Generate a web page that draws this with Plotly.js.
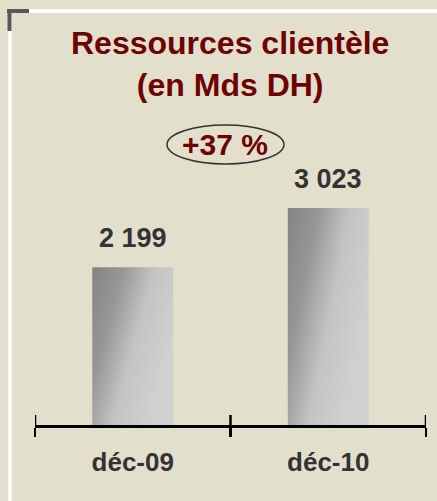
<!DOCTYPE html>
<html>
<head>
<meta charset="utf-8">
<script src="https://cdn.plot.ly/plotly-3.0.1.min.js"></script>
<style>
  html, body { margin: 0; padding: 0; background: #E3E0CB; }
  #chart { width: 437px; height: 501px; }
</style>
</head>
<body>
<div id="chart"></div>
<script>
// ---- data ----
const categories = ['déc-09', 'déc-10'];
const values = [2199, 3023];
const growthLabel = '+37 %';
const titleText = 'Ressources clientèle<br>(en Mds DH)';

// ---- layout geometry (pixels) ----
const W = 437, H = 501;
const M = { l: 35, r: 11, t: 138, b: 76 };
const PW = W - M.l - M.r, PH = H - M.t - M.b;
const px = x => (x - M.l) / PW;          // page px -> paper x
const py = y => (H - M.b - y) / PH;      // page px -> paper y

function fmt(v) { return String(v).replace(/\B(?=(\d{3})+(?!\d))/g, ' '); }

const FONT = 'Liberation Sans, Arial, sans-serif';
const MAROON = '#6E0303';
const DARK = '#333333';

const trace = {
  type: 'bar',
  x: categories,
  y: values,
  width: 0.414,
  marker: { color: '#B0B0B0', line: { width: 0 } },
  hoverinfo: 'skip'
};

const annotations = categories.map((c, i) => ({
  x: c, y: values[i], xref: 'x', yref: 'y',
  text: '<b>' + fmt(values[i]) + '</b>',
  showarrow: false, yanchor: 'bottom', yshift: 12,
  font: { family: FONT, size: 27, color: DARK }
}));
annotations.push({
  x: px(225), y: py(144), xref: 'paper', yref: 'paper',
  text: '<b>' + growthLabel + '</b>', showarrow: false,
  xanchor: 'center', yanchor: 'middle',
  font: { family: FONT, size: 30, color: MAROON }
});
// chart title (two lines)
annotations.push({
  x: px(230), y: py(23), xref: 'paper', yref: 'paper',
  text: '<b>' + titleText + '</b>', showarrow: false,
  xanchor: 'center', yanchor: 'top', align: 'center',
  font: { family: FONT, size: 32, color: MAROON }
});

const tickPos = [-0.5, 0.5, 1.5];
const shapes = [
  // inner panel
  { type: 'rect', xref: 'paper', yref: 'paper', layer: 'below',
    x0: px(12), x1: px(437), y0: py(496), y1: py(13),
    fillcolor: '#E2E0CD', line: { width: 0 } },
  // white frame lines
  { type: 'line', xref: 'paper', yref: 'paper', layer: 'below',
    x0: px(10), x1: px(10), y0: py(11), y1: py(501),
    line: { color: '#FFFFFF', width: 3.5 } },
  { type: 'line', xref: 'paper', yref: 'paper', layer: 'below',
    x0: px(10), x1: px(437), y0: py(11), y1: py(11),
    line: { color: '#FFFFFF', width: 3.5 } },
  // dark corner
  { type: 'line', xref: 'paper', yref: 'paper',
    x0: px(7), x1: px(29), y0: py(11), y1: py(11),
    line: { color: '#5A5757', width: 4 } },
  { type: 'line', xref: 'paper', yref: 'paper',
    x0: px(9.5), x1: px(9.5), y0: py(9), y1: py(31),
    line: { color: '#5A5757', width: 4 } },
  // ellipse around growth label
  { type: 'circle', xref: 'paper', yref: 'paper',
    x0: px(167), x1: px(284), y0: py(164), y1: py(125),
    line: { color: '#333333', width: 1.5 } }
];
// upper halves of the axis ticks
tickPos.forEach(t => shapes.push({
  type: 'line', xref: 'x', yref: 'paper',
  x0: t, x1: t, y0: 0, y1: 10 / PH,
  line: { color: '#000000', width: 2.5 }
}));

const layout = {
  width: W, height: H,
  margin: M,
  paper_bgcolor: '#E3E0CB',
  plot_bgcolor: 'rgba(0,0,0,0)',
  showlegend: false,
  xaxis: {
    type: 'category', range: [-0.5, 1.5],
    showline: true, linecolor: '#000000', linewidth: 2.5,
    ticks: 'outside', tickson: 'boundaries', ticklen: 9, tickwidth: 2.5, tickcolor: '#000000',
    ticklabelstandoff: 12,
    showgrid: false, zeroline: false,
    tickfont: { family: FONT, size: 26, color: DARK, weight: 'bold' },
    fixedrange: true
  },
  yaxis: {
    range: [0, 4000], visible: false, showgrid: false, zeroline: false, fixedrange: true
  },
  annotations: annotations,
  shapes: shapes
};

Plotly.newPlot('chart', [trace], layout, { staticPlot: true, displayModeBar: false }).then(gd => {
  // apply the grey sheen gradient to the bars
  const svg = gd.querySelector('svg.main-svg');
  const ns = 'http://www.w3.org/2000/svg';
  let defs = svg.querySelector('defs');
  if (!defs) { defs = document.createElementNS(ns, 'defs'); svg.insertBefore(defs, svg.firstChild); }
  const g = document.createElementNS(ns, 'linearGradient');
  g.setAttribute('id', 'barSheen');
  g.setAttribute('x1', '0'); g.setAttribute('y1', '0.05');
  g.setAttribute('x2', '0.95'); g.setAttribute('y2', '0.55');
  [['0', '#858585'], ['0.3', '#979797'], ['0.62', '#C4C4C4'], ['1', '#D0D0D0']].forEach(([o, c]) => {
    const s = document.createElementNS(ns, 'stop');
    s.setAttribute('offset', o); s.setAttribute('stop-color', c);
    g.appendChild(s);
  });
  defs.appendChild(g);
  gd.querySelectorAll('.barlayer .point path').forEach(p => {
    p.style.fill = 'url(#barSheen)';
  });
});
</script>
</body>
</html>
